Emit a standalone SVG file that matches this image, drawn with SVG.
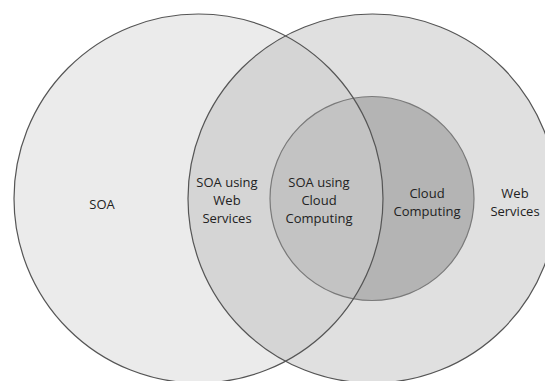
<svg xmlns="http://www.w3.org/2000/svg" width="545" height="381" viewBox="0 0 545 381">
<style>
.lbl{font-family:"Open Sans","Liberation Sans",sans-serif;font-size:13px;fill:#222;text-anchor:middle}
.edge{fill:none;stroke:#555;stroke-width:1.2}
.inner{fill:none;stroke:#7a7a7a;stroke-width:1.2}
</style>
<defs>
<clipPath id="clipLeft"><circle cx="198.5" cy="198.5" r="184.5"/></clipPath>
</defs>
<rect width="545" height="381" fill="#ffffff"/>
<g id="soa">
<circle cx="198.5" cy="198.5" r="184.5" fill="#ebebeb"/>
</g>
<g id="web-services">
<circle cx="372.5" cy="198.5" r="184.5" fill="#e0e0e0"/>
</g>
<g id="soa-using-web-services">
<circle cx="372.5" cy="198.5" r="184.5" fill="#d5d5d5" clip-path="url(#clipLeft)"/>
</g>
<g id="cloud-computing">
<circle cx="372" cy="198.5" r="102" fill="#b4b4b4"/>
</g>
<g id="soa-using-cloud-computing">
<circle cx="372" cy="198.5" r="102" fill="#c3c3c3" clip-path="url(#clipLeft)"/>
</g>
<g id="outlines">
<circle class="inner" cx="372" cy="198.5" r="102"/>
<circle class="edge" cx="198.5" cy="198.5" r="184.5"/>
<circle class="edge" cx="372.5" cy="198.5" r="184.5"/>
</g>
<g id="labels">
<text class="lbl" x="102" y="209">SOA</text>
<text class="lbl" x="227" y="187">SOA using</text>
<text class="lbl" x="227" y="205">Web</text>
<text class="lbl" x="227" y="223">Services</text>
<text class="lbl" x="319" y="187">SOA using</text>
<text class="lbl" x="319" y="205">Cloud</text>
<text class="lbl" x="319" y="223">Computing</text>
<text class="lbl" x="427" y="198">Cloud</text>
<text class="lbl" x="427" y="216">Computing</text>
<text class="lbl" x="515" y="198">Web</text>
<text class="lbl" x="515" y="216">Services</text>
</g>
</svg>
